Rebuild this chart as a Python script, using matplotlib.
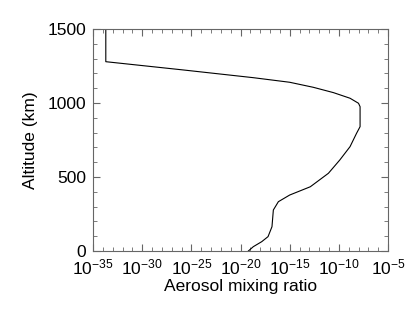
"""Aerosol mixing ratio vs altitude profile."""
import matplotlib
matplotlib.use("Agg")
import matplotlib.pyplot as plt
import numpy as np
from matplotlib.ticker import MultipleLocator, NullFormatter

plt.rcParams["font.family"] = ["Liberation Sans", "DejaVu Sans"]
plt.rcParams["mathtext.fontset"] = "custom"
plt.rcParams["mathtext.rm"] = "Liberation Sans"

# profile: log10(mixing ratio) vs altitude (km)
log_mix = [-19.2, -18.7, -17.84, -17.2, -16.8, -16.66, -16.15, -15.0, -12.9,
           -11.06, -9.9, -8.86, -8.2, -7.84, -7.84, -8.0, -8.86, -10.55,
           -12.6, -15.0, -18.7, -25.8, -33.7, -33.7]
altitude = [0, 29, 63, 97, 164, 277, 333, 378, 434, 525, 615, 705, 795, 840,
            975, 998, 1032, 1070, 1106, 1140, 1171, 1223, 1279, 1500]

mix = 10.0 ** np.array(log_mix)

fig = plt.figure(figsize=(4.16, 3.11), dpi=100)
ax = fig.add_axes([0.2236, 0.193, 0.7091, 0.7138])
ax.plot(mix, altitude, color="black", lw=0.8)
ax.set_xscale("log")
ax.set_xlim(1e-35, 1e-5)
ax.set_ylim(0, 1500)
ax.set_xticks([10.0 ** k for k in range(-35, -4, 5)])
ax.set_xticks([10.0 ** k for k in range(-35, -4) if k % 5], minor=True)
ax.xaxis.set_minor_formatter(NullFormatter())
ax.yaxis.set_major_locator(MultipleLocator(500))
ax.yaxis.set_minor_locator(MultipleLocator(100))
ax.tick_params(which="both", direction="in", top=True, right=True,
               color="#666666", labelsize=12.5, pad=5)
ax.tick_params(which="major", length=5)
ax.tick_params(which="minor", length=3)
for s in ax.spines.values():
    s.set_color("#666666")
    s.set_linewidth(0.8)
ax.set_xlabel("Aerosol mixing ratio", fontsize=12.5, labelpad=1)
ax.set_ylabel("Altitude (km)", fontsize=12.5, labelpad=7)
fig.savefig("out.png", dpi=100)
